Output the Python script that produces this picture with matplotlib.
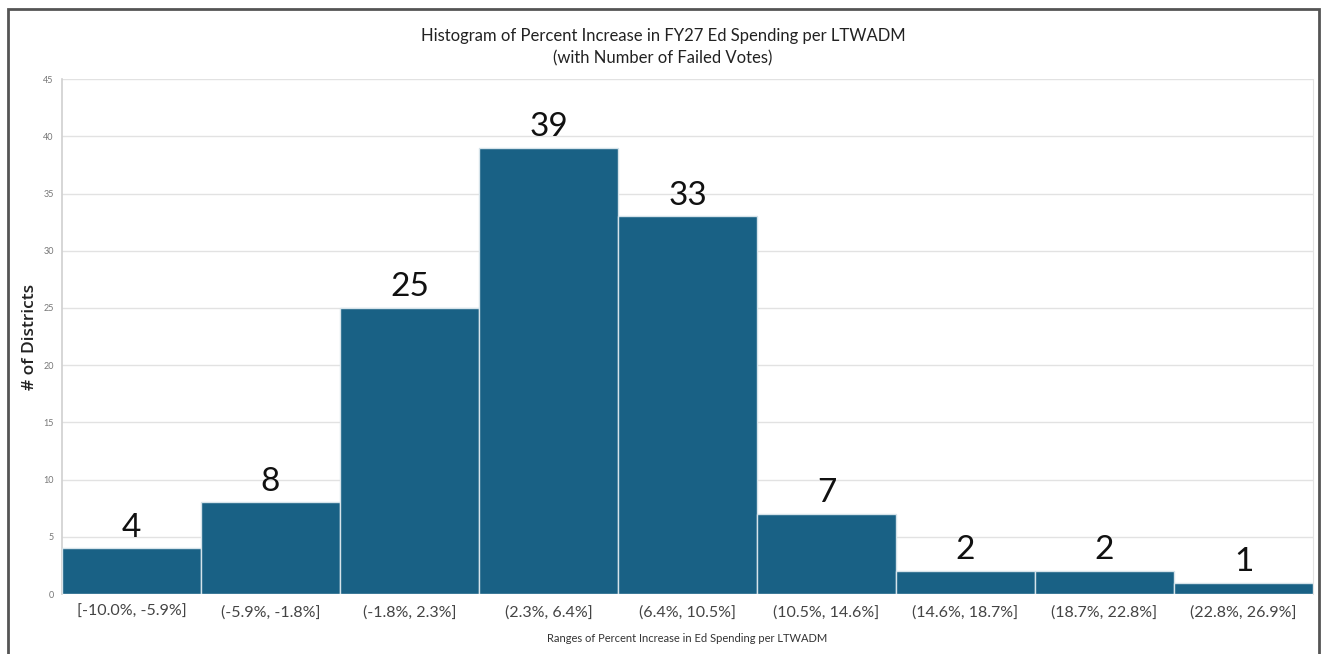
import matplotlib

matplotlib.use("Agg")
import matplotlib.pyplot as plt
from matplotlib.patches import Rectangle

bins = [
    "[-10.0%, -5.9%]",
    "(-5.9%, -1.8%]",
    "(-1.8%, 2.3%]",
    "(2.3%, 6.4%]",
    "(6.4%, 10.5%]",
    "(10.5%, 14.6%]",
    "(14.6%, 18.7%]",
    "(18.7%, 22.8%]",
    "(22.8%, 26.9%]",
]
counts = [4, 8, 25, 39, 33, 7, 2, 2, 1]
bar_labels = ["4", "8", "25", "39", "33", "7", "2", "2", "1"]
y_ticks = [0, 5, 10, 15, 20, 25, 30, 35, 40, 45]

plt.rcParams["font.family"] = ["Lato", "DejaVu Sans"]

fig = plt.figure(figsize=(13.26, 6.54), dpi=100)
ax = fig.add_axes([0.0468, 0.0917, 0.9434, 0.7873])

x = range(len(bins))
bars = ax.bar(x, counts, width=1.0, color="#196185", edgecolor="#d5e3ea", linewidth=1.0, zorder=3)
for b, lab in zip(bars, bar_labels):
    ax.text(b.get_x() + b.get_width() / 2, b.get_height() + 0.5, lab,
            ha="center", va="bottom", fontsize=24, color="#111111")

ax.set_xlim(-0.5, len(bins) - 0.5)
ax.set_ylim(0, 45)
ax.set_yticks(y_ticks)
ax.set_yticklabels([str(v) for v in y_ticks], fontsize=6.5, color="#777777")
ax.set_xticks(list(x))
ax.set_xticklabels(bins, fontsize=11.5, color="#444444")
ax.tick_params(axis="x", length=0, pad=8)
ax.tick_params(axis="y", length=0, pad=6)
ax.grid(axis="y", color="#e2e2e2", linewidth=1.0, zorder=0)
for side in ["top", "bottom"]:
    ax.spines[side].set_visible(False)
ax.spines["left"].set_color("#d0d0d0")
ax.spines["left"].set_linewidth(1.2)
ax.spines["right"].set_color("#e2e2e2")

ax.set_ylabel("# of Districts", fontsize=12.5, color="#222222", labelpad=4,
              family=["Open Sans", "DejaVu Sans"], fontweight="semibold")
ax.set_xlabel("Ranges of Percent Increase in Ed Spending per LTWADM", fontsize=8, color="#333333", labelpad=10)

fig.text(0.5, 0.957, "Histogram of Percent Increase in FY27 Ed Spending per LTWADM\n(with Number of Failed Votes)",
         ha="center", va="top", fontsize=12, color="#222222", linespacing=1.5)

fig.patches.append(Rectangle((8 / 1326, -0.05), 1311 / 1326, 1.05 - 9 / 654,
                             transform=fig.transFigure, fill=False, edgecolor="#555555", linewidth=2))

fig.savefig("out.png", dpi=100)
